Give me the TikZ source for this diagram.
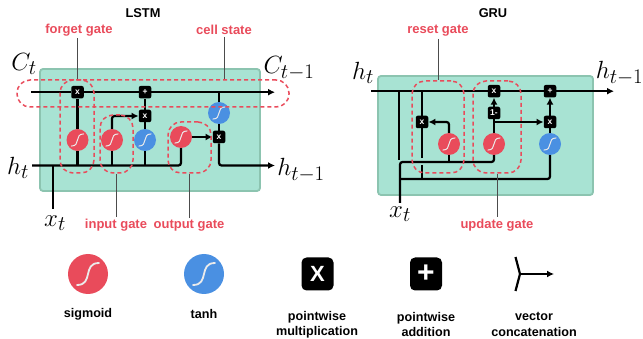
\documentclass[tikz,border=0pt]{standalone}
\usepackage{amsmath,amssymb}
\usepackage{fontspec}
\setmainfont{Liberation Sans}
\usetikzlibrary{positioning,arrows.meta}
\definecolor{gatered}{HTML}{E94B5B}
\definecolor{tanhblue}{HTML}{4A90E2}
\definecolor{cellfill}{HTML}{A8E3D3}
\definecolor{celledge}{HTML}{8CC4B0}
\tikzset{
  scurve/.style={path picture={\draw[white!92!black,line width=0.09*#1 pt,line cap=round,x=#1 pt,y=#1 pt,shift={(path picture bounding box.center)}]
    (-0.55,-0.55) .. controls (0.3,-0.55) and (-0.3,0.55) .. (0.55,0.55);}},
  sigm/.style={circle,fill=gatered,minimum size=22pt,inner sep=0,scurve=11},
  tanhc/.style={circle,fill=tanhblue,minimum size=22pt,inner sep=0,scurve=11},
  opbox/.style={fill=black,rounded corners=2pt,minimum size=12.5pt,inner sep=0,text=white,font=\bfseries\fontsize{8.5}{8.5}\selectfont},
  bigop/.style={fill=black,rounded corners=5pt,minimum width=32pt,minimum height=33pt,inner sep=0,text=white,font=\bfseries\fontsize{22}{22}\selectfont},
  wire/.style={line width=2.2pt,rounded corners=2.5pt},
  wirearr/.style={wire,-{Latex[length=7pt,width=7pt]}},
  gatebox/.style={draw=gatered,line width=1.5pt,dash pattern=on 4pt off 3pt,rounded corners=13pt,inner sep=0},
  leader/.style={draw=black!70,line width=0.8pt},
  gatelabel/.style={text=gatered,font=\bfseries\fontsize{13}{14}\selectfont,inner sep=2pt},
  toplabel/.style={font=\bfseries\fontsize{12.8}{14}\selectfont,inner sep=0},
  legendlabel/.style={align=center,font=\bfseries\fontsize{12.6}{15.5}\selectfont,inner sep=0},
  mathlabel/.style={font=\Huge,inner sep=0},
  cellbox/.style={fill=cellfill,draw=celledge,line width=1.8pt,rounded corners=3pt}
}
\begin{document}
\begin{tikzpicture}[x=1pt,y=-1pt]
\useasboundingbox (0,0) rectangle (643,339);
\draw[cellbox] (40,69) rectangle (260,191);
\draw[cellbox] (378,76) rectangle (593,195);
% lstm cell
\node[toplabel] (lstmtitle) at (143,13) {LSTM};
\node[gatelabel] (forgetlabel) at (79,30) {forget gate};
\node[gatelabel] (celllabel) at (224,30) {cell state};
\node[gatelabel] (inputlabel) at (116,225) {input gate};
\node[gatelabel] (outputlabel) at (189,226) {output gate};
\node[mathlabel] (lstmct) at (24,64) {$C_t$};
\node[mathlabel] (lstmcnext) at (289,68) {$C_{t-1}$};
\node[mathlabel] (lstmht) at (18,168) {$h_t$};
\node[mathlabel] (lstmhnext) at (301,170) {$h_{t-1}$};
\node[mathlabel] (lstmxt) at (55,223) {$x_t$};
\foreach \nm/\xx/\yy in {lstmforgetsig/77.5/140,lstminputsig/112/140,lstmoutsig/181/137}
  {\node[sigm] (\nm) at (\xx,\yy) {};}
\foreach \nm/\xx/\yy in {lstmtanha/145/140,lstmtanhb/219/113}
  {\node[tanhc] (\nm) at (\xx,\yy) {};}
\node[opbox] (lstmforgetop) at (77.5,92.2) {x};
\node[opbox] (lstmaddop) at (145,92.2) {+};
\node[opbox] (lstminputop) at (145,116) {x};
\node[opbox] (lstmoutop) at (219,137) {x};
\coordinate (cstart) at (31,92.2);
\coordinate (cend) at (275,92.2);
\coordinate (hstart) at (32,165.5);
\coordinate (hend) at (275,165.5);
\coordinate (lstmxin) at (53,209);
\draw[wire] (cstart) -- (lstmforgetop);
\draw[wire] (lstmforgetop) -- (lstmaddop);
\draw[wirearr] (lstmaddop) -- (cend);
\draw[wire] (hstart) -| (lstmoutsig);
\draw[wire] (lstmxin) -- (lstmxin |- hstart);
\draw[wire] (lstmforgetsig |- hstart) -- (lstmforgetsig);
\draw[wire] (lstmforgetsig) -- (lstmforgetop);
\draw[wire] (lstminputsig |- hstart) -- (lstminputsig);
\draw[wirearr] (lstminputsig) |- (lstminputop);
\draw[wire] (lstmtanha |- hstart) -- (lstmtanha);
\draw[wire] (lstmtanha) -- (lstminputop);
\draw[wire] (lstminputop) -- (lstmaddop);
\draw[wirearr] (lstmoutsig) -- (lstmoutop);
\draw[wire] (lstmtanhb |- cstart) -- (lstmtanhb);
\draw[wire] (lstmtanhb) -- (lstmoutop);
\draw[wirearr] (lstmoutop) |- (hend);
\node[gatebox,minimum width=34pt,minimum height=93pt] (forgetdash) at (77,126.5) {};
\node[gatebox,minimum width=33pt,minimum height=58pt] (inputdash) at (116.5,144) {};
\node[gatebox,minimum width=43pt,minimum height=51pt] (outputdash) at (189.5,147.5) {};
\node[gatebox,minimum width=272pt,minimum height=27pt] (celldash) at (153,93.5) {};
\draw[leader] (forgetdash.north) -- (forgetdash.north |- forgetlabel.south);
\draw[leader] (celllabel.south) -- (celllabel |- celldash.north);
\draw[leader] (inputlabel.north) -- (inputlabel |- inputdash.south);
\draw[leader] (outputlabel.north) -- (outputlabel |- outputdash.south);
% gru cell
\node[toplabel] (grutitle) at (493,13) {GRU};
\node[gatelabel] (resetlabel) at (438,31) {reset gate};
\node[gatelabel] (updatelabel) at (497,225) {update gate};
\node[mathlabel] (gruht) at (363,73) {$h_t$};
\node[mathlabel] (gruhnext) at (619.5,73) {$h_{t-1}$};
\node[mathlabel] (gruxt) at (400,214) {$x_t$};
\node[sigm] (grurstsig) at (449,144) {};
\node[sigm] (gruupsig) at (494,144) {};
\node[tanhc] (grutanh) at (550,144) {};
\node[opbox] (grurstop) at (422,122) {x};
\node[opbox] (gruupop) at (494,91.2) {x};
\node[opbox] (gruinv) at (494,113) {1-};
\node[opbox] (gruaddop) at (550,91.2) {+};
\node[opbox] (grumulop) at (550,122) {x};
\coordinate (grustart) at (371,91.2);
\coordinate (gruend) at (614,91.2);
\coordinate (gruxin) at (400,203);
\coordinate (gruturn) at (400,162);
\coordinate (grulow) at (400,179);
\coordinate (grubyp) at (399,160);
\coordinate (grubranch) at (494,122);
\coordinate (grutapa) at (422,158);
\coordinate (grutapb) at (422,165);
\draw[wire] (grustart) -- (gruupop);
\draw[wire] (gruupop) -- (gruaddop);
\draw[wirearr] (gruaddop) -- (gruend);
\draw[wire] (grubyp |- grustart) -- (grubyp);
\draw[wire] (gruxin) -- (gruturn) -| (gruupsig);
\draw[wire] (gruturn |- grulow) -| (grutanh);
\draw[wire] (grurstop |- grustart) -- (grurstop);
\draw[wire] (grurstop) -- (grutapa);
\draw[wire] (grutapb) -- (grurstop |- grulow);
\draw[wire] (grurstsig |- gruturn) -- (grurstsig);
\draw[wirearr] (grurstsig) |- (grurstop);
\draw[wire] (gruupsig) -- (gruinv);
\draw[wirearr] (gruinv) -- (gruupop);
\draw[wirearr] (grubranch) -- (grumulop);
\draw[wire] (grutanh) -- (grumulop);
\draw[wirearr] (grumulop) -- (gruaddop);
\node[gatebox,minimum width=52pt,minimum height=92pt] (resetdash) at (438,127) {};
\node[gatebox,minimum width=48pt,minimum height=92pt] (updatedash) at (497,127) {};
\draw[leader] (resetlabel.south) -- (resetlabel |- resetdash.north);
\draw[leader] (updatelabel.north) -- (updatelabel |- updatedash.south);
% legend
\node[circle,fill=gatered,minimum size=40pt,inner sep=0,scurve=20] (legsig) at (88,274) {};
\node[circle,fill=tanhblue,minimum size=40pt,inner sep=0,scurve=20] (legtanh) at (204,274) {};
\node[bigop] (legmul) at (317.5,274) {X};
\node[bigop,font=\bfseries\fontsize{30}{30}\selectfont] (legadd) at (426,274) {+};
\coordinate (legarma) at (515.5,257);
\coordinate (legarmb) at (515.5,291);
\coordinate (legjoin) at (520,274);
\coordinate (legtip) at (554,274);
\draw[line width=2.2pt] (legarma) -- (legjoin) -- (legarmb);
\draw[line width=2.2pt,-{Latex[length=7pt,width=7pt]}] (legjoin) -- (legtip);
\node[legendlabel] (legsiglabel) at (88,314) {sigmoid};
\node[legendlabel] (legtanhlabel) at (204,314) {tanh};
\node[legendlabel] (legmullabel) at (317,324.5) {pointwise\\multiplication};
\node[legendlabel] (legaddlabel) at (426,324.5) {pointwise\\addition};
\node[legendlabel] (legcatlabel) at (534,324.5) {vector\\concatenation};
\end{tikzpicture}
\end{document}
